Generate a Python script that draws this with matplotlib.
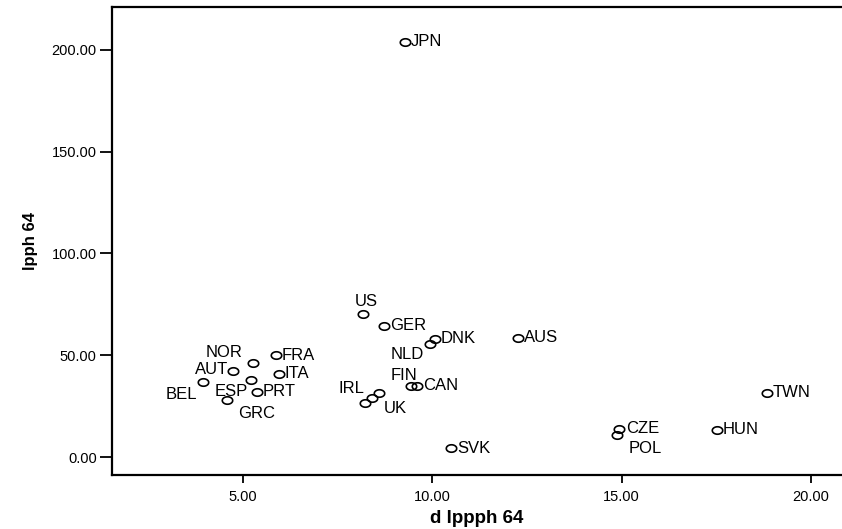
import numpy as np
import matplotlib.pyplot as plt

plt.rcParams['font.family'] = ['Liberation Sans', 'DejaVu Sans']

# growth of labour productivity vs. level, by country
countries = ['JPN', 'US', 'GER', 'DNK', 'NLD', 'AUS', 'FIN', 'CAN', 'IRL', '', 'UK',
             'SVK', 'CZE', 'POL', 'HUN', 'TWN', 'FRA', 'ITA', 'PRT', 'AUT', 'NOR',
             'BEL', 'ESP', 'GRC']
d_lppph = [9.27, 8.17, 8.72, 10.07, 9.93, 12.26, 9.43, 9.59, 8.22, 8.40, 8.59,
           10.49, 14.92, 14.87, 17.51, 18.83, 5.87, 5.95, 5.37, 4.74, 5.26,
           3.94, 5.21, 4.58]
lpph = [204.0, 70.3, 64.4, 58.0, 55.6, 58.5, 34.9, 34.9, 26.5, 29.0, 31.5,
        4.4, 13.8, 10.8, 13.3, 31.5, 50.1, 40.8, 32.0, 42.3, 46.2,
        36.9, 37.9, 28.0]

# label placement (offset in pixels, horizontal alignment)
offsets = {
    'US': (3, 12, 'center'), 'NLD': (-6, -11, 'right'), 'FIN': (-7, 10, 'center'),
    'IRL': (-1, 15, 'right'), 'UK': (5, -16, 'left'), 'CZE': (8, 0, 'left'),
    'POL': (12, -13, 'left'), 'AUT': (-5, 1, 'right'), 'NOR': (-10, 10, 'right'),
    'BEL': (-6, -13, 'right'), 'ESP': (-3, -12, 'right'), 'GRC': (11, -13, 'left'),
}

# slightly flattened open circle
t = np.linspace(0, 2 * np.pi, 61)
ring = np.column_stack([1.4 * np.cos(t), np.sin(t)])

fig = plt.figure(figsize=(8.42, 5.29), dpi=100)
ax = fig.add_axes([0.133, 0.102, 0.867, 0.885])

ax.plot(d_lppph, lpph, linestyle='none', marker=ring, mfc='none', mec='black',
        ms=7.5, mew=1.2, clip_on=False)

for name, x, y in zip(countries, d_lppph, lpph):
    if not name:
        continue
    dx, dy, ha = offsets.get(name, (6, 0, 'left'))
    ax.annotate(name, (x, y), xytext=(dx, dy), textcoords='offset pixels',
                ha=ha, va='center', fontsize=12, color='black')

ax.set_xlim(1.54, 20.82)
ax.set_ylim(-8.85, 221.1)
ax.set_xticks([5, 10, 15, 20])
ax.set_yticks([0, 50, 100, 150, 200])
ax.xaxis.set_major_formatter(plt.FormatStrFormatter('%.2f'))
ax.yaxis.set_major_formatter(plt.FormatStrFormatter('%.2f'))
ax.tick_params(axis='x', length=6, width=1.3, labelsize=10.5, pad=5)
ax.tick_params(axis='y', length=9, width=1.3, labelsize=10.5, pad=2)

ax.spines['right'].set_visible(False)
for s in ['left', 'bottom', 'top']:
    ax.spines[s].set_linewidth(1.6)

ax.set_xlabel('d lppph 64', fontsize=13.5, fontweight='bold', labelpad=4)
ax.set_ylabel('lpph 64', fontsize=12, fontweight='bold', labelpad=10)

fig.savefig('out.png', dpi=100)
